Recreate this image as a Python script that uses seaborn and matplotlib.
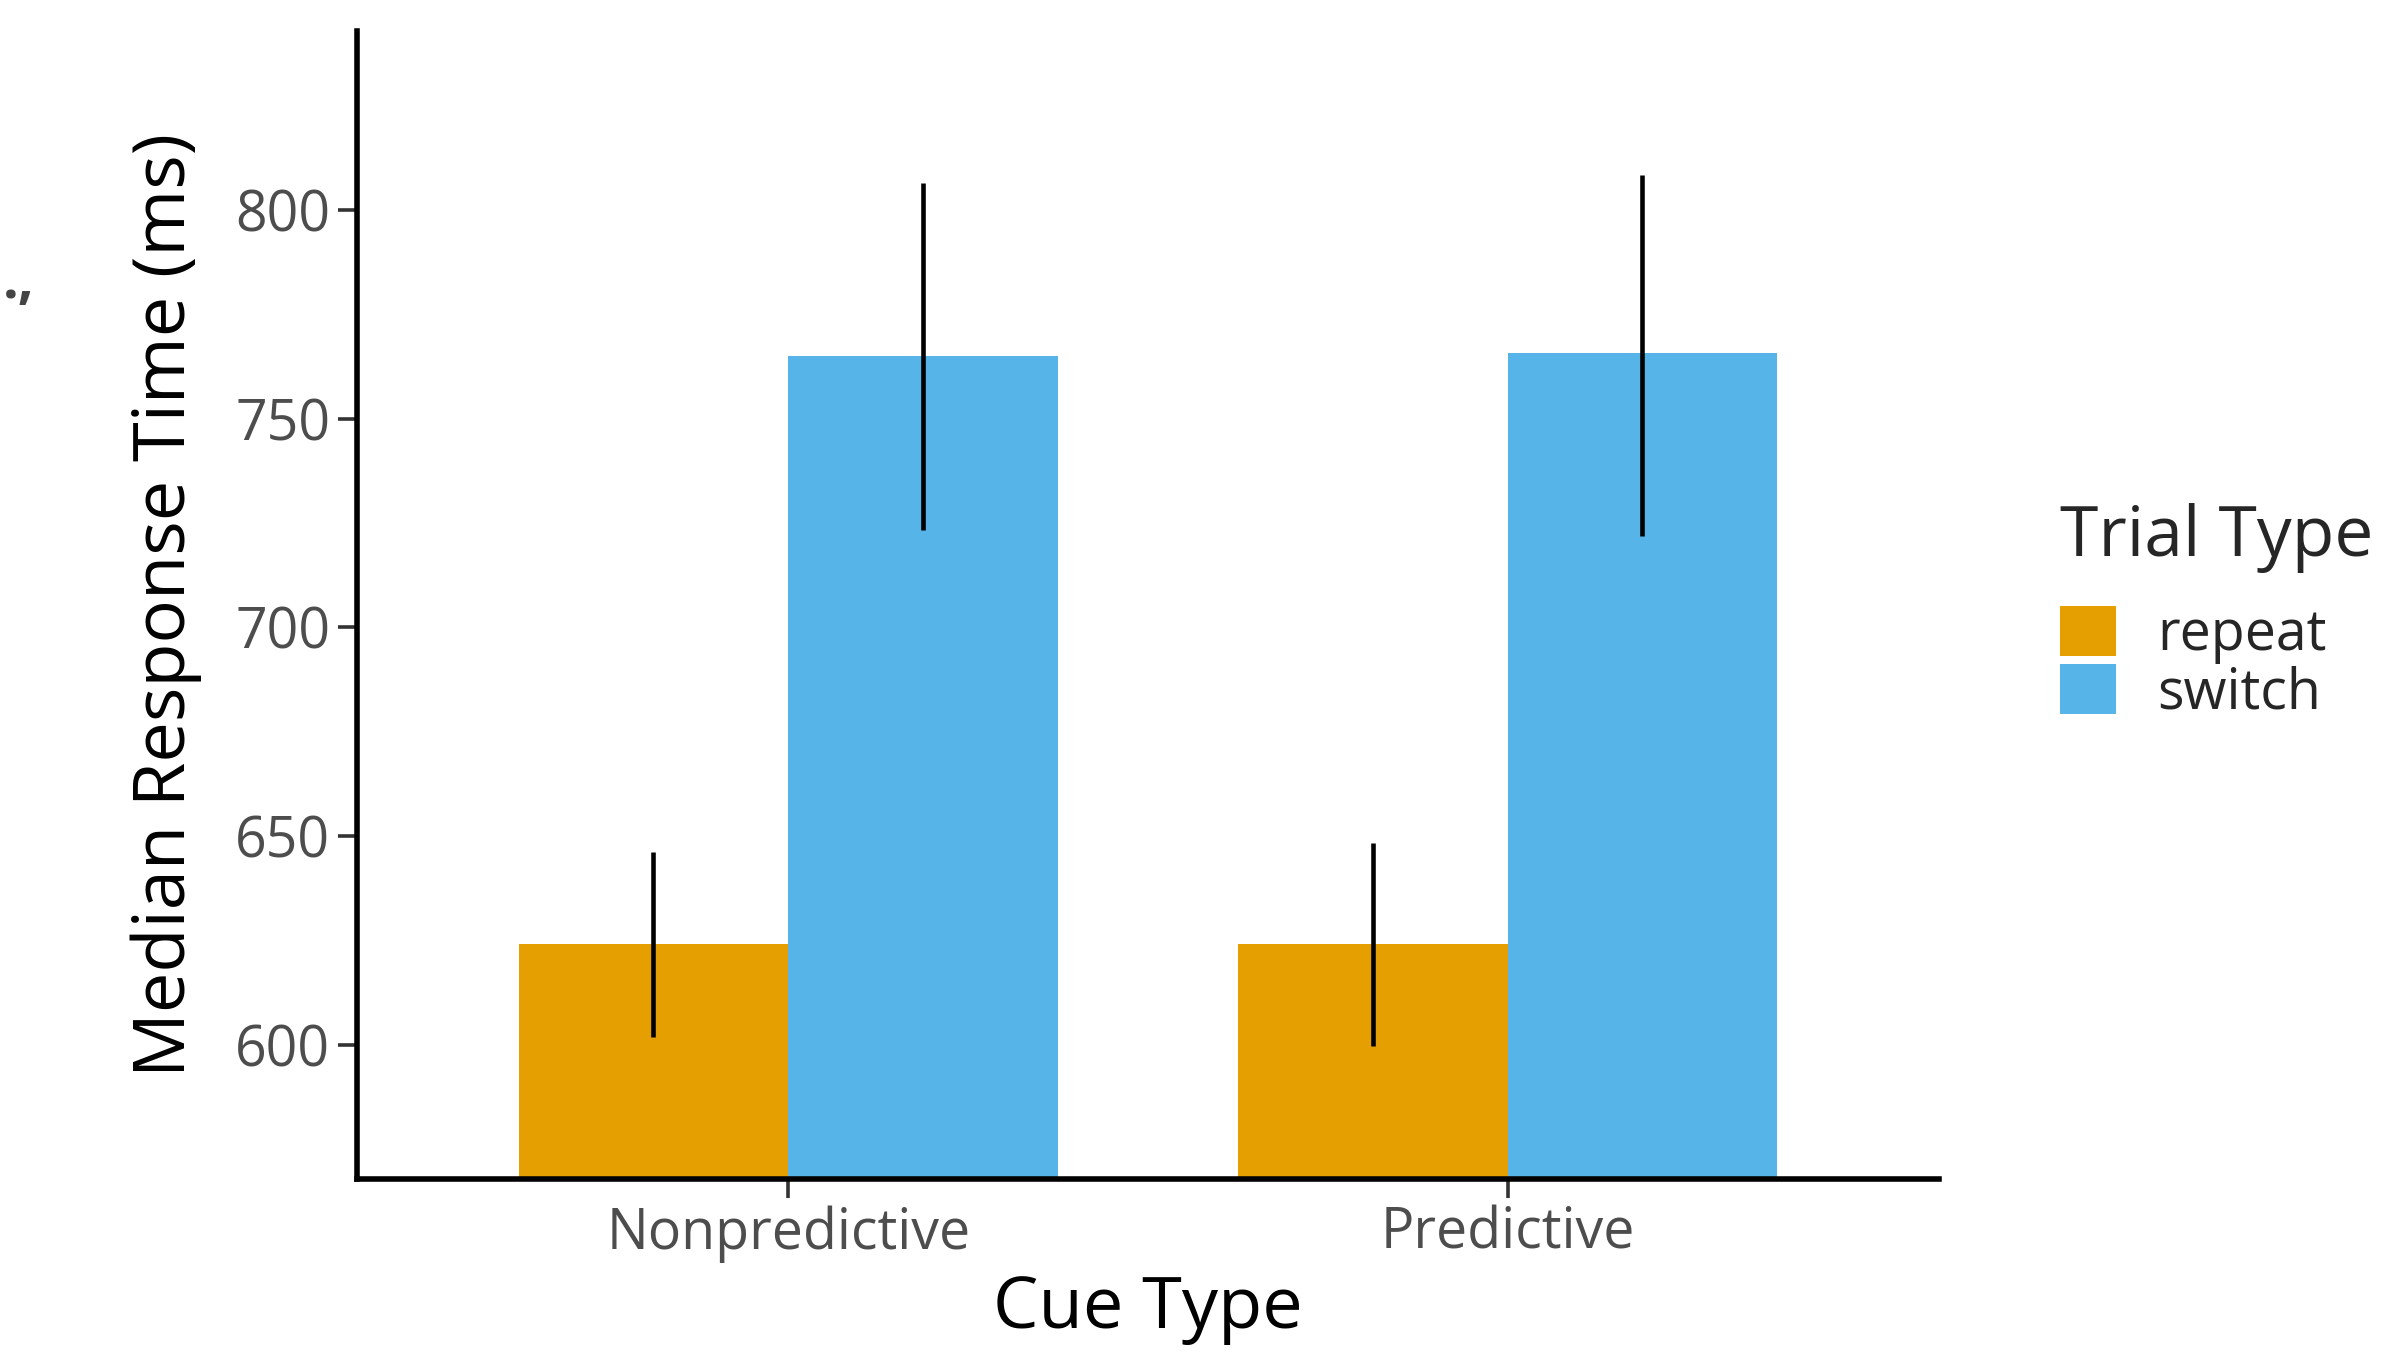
import matplotlib
matplotlib.use('Agg')
import matplotlib.pyplot as plt
import seaborn as sns
import pandas as pd

# Datos
cue_types = ['Nonpredictive', 'Predictive']
trial_types = ['repeat', 'switch']
rt_repeat = [624.2, 624.2]
rt_switch = [765.2, 765.9]
err_lo_repeat = [601.8, 599.6]
err_hi_repeat = [646.2, 648.4]
err_lo_switch = [723.4, 722.0]
err_hi_switch = [806.6, 808.4]
y_ticks = [600, 650, 700, 750, 800]

colores = {'repeat': '#E69F00', 'switch': '#56B4E9'}

datos = pd.DataFrame({
    'Cue Type': cue_types * 2,
    'Trial Type': ['repeat'] * 2 + ['switch'] * 2,
    'RT': rt_repeat + rt_switch,
})
lo = {'repeat': err_lo_repeat, 'switch': err_lo_switch}
hi = {'repeat': err_hi_repeat, 'switch': err_hi_switch}

sns.set_style('white')
plt.rcParams['font.family'] = ['Open Sans', 'DejaVu Sans']

fig = plt.figure(figsize=(23.94, 13.66), dpi=100)
ax = fig.add_axes([0.149, 0.137, 0.661, 0.840])

sns.barplot(data=datos, x='Cue Type', y='RT', hue='Trial Type', order=cue_types,
            hue_order=trial_types, palette=colores, width=0.75, errorbar=None,
            saturation=1, linewidth=0, legend=False, ax=ax)

# Barras de error (sin remates) centradas en cada barra
for tipo, cont in zip(trial_types, ax.containers):
    xs = [p.get_x() + p.get_width() / 2 for p in cont]
    ax.vlines(xs, lo[tipo], hi[tipo], color='black', linewidth=3.3, zorder=3)

ax.set_xlim(-0.6, 1.6)
ax.set_ylim(567.8, 842.9)
ax.set_yticks(y_ticks)

for lado in ['top', 'right']:
    ax.spines[lado].set_visible(False)
for lado in ['left', 'bottom']:
    ax.spines[lado].set_color('black')
    ax.spines[lado].set_linewidth(4.0)
    ax.spines[lado].set_capstyle('projecting')

ax.tick_params(axis='both', which='major', length=14, width=2.6, color='#333333',
               labelcolor='#4D4D4D', labelsize=40, left=True, bottom=True, pad=5)
ax.set_xlabel('Cue Type', fontsize=52, color='black', labelpad=8)
ax.set_ylabel('Median Response Time (ms)', fontsize=52, color='black', labelpad=24)

# Leyenda
handles = [cont.patches[0] for cont in ax.containers]
leg = fig.legend(handles, trial_types, title='Trial Type', loc='upper left',
                 bbox_to_anchor=(0.849, 0.652), frameon=False, fontsize=40,
                 title_fontsize=50, handlelength=1.0, handleheight=1.0,
                 labelspacing=0, handletextpad=0.75, borderpad=0)
leg._legend_box.align = 'left'
leg._legend_box.sep = 24

# Fragmento recortado de la figura original
fig.text(0.001, 0.782, '.,', fontsize=40, fontweight='bold', color='#444444')

fig.savefig('out.png', dpi=100)
